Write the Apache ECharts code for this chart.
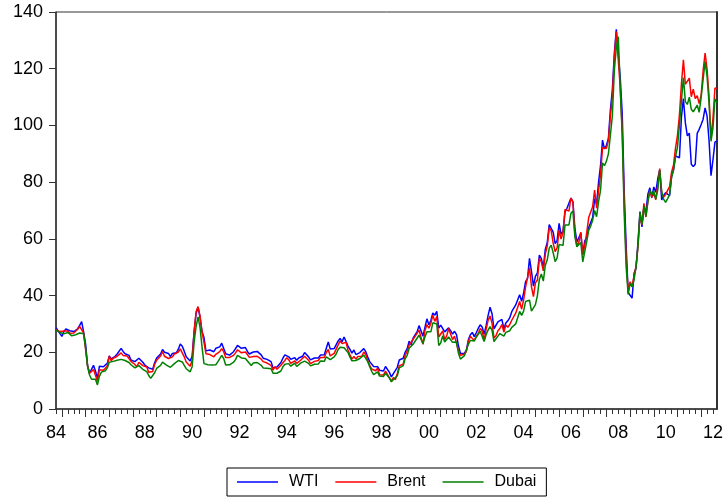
<!DOCTYPE html>
<html>
<head>
<meta charset="utf-8">
<script src="https://cdn.jsdelivr.net/npm/echarts@6/dist/echarts.min.js"></script>
<style>
  html, body { margin: 0; padding: 0; background: #fff; }
  #chart { width: 726px; height: 497px; }
</style>
</head>
<body>
<div id="chart"></div>
<script>
// monthly, 1984M10 .. 2012M09
const startYear = 1984
const startMonth = 10
const monthCount = 336

const yTicks = [0, 20, 40, 60, 80, 100, 120, 140]

const wti = [
  28.7, 28.0, 26.6,
  25.6, 27.3, 28.2, 28.8, 27.6, 27.1, 27.3, 27.8, 28.3, 29.5, 30.8, 27.2,
  22.9, 15.4, 12.6, 12.8, 15.4, 13.4, 10.8, 15.1, 14.9, 14.9, 15.2, 16.1,
  18.7, 17.7, 18.3, 18.6, 19.4, 20.0, 21.4, 20.3, 19.5, 19.8, 18.9, 17.3,
  17.1, 16.7, 16.2, 17.9, 17.4, 16.5, 15.5, 15.5, 14.5, 13.8, 14.0, 16.3,
  18.0, 17.8, 19.4, 21.0, 20.0, 20.0, 19.6, 18.5, 19.6, 20.1, 19.8, 21.1,
  22.9, 22.1, 20.4, 18.4, 18.2, 16.9, 18.6, 27.2, 33.7, 35.9, 32.3, 27.3,
  25.2, 20.5, 19.9, 20.8, 21.2, 20.2, 21.4, 21.7, 21.9, 23.2, 22.5, 19.5,
  18.8, 19.0, 18.9, 20.2, 20.9, 22.4, 21.8, 21.4, 21.9, 21.7, 20.3, 19.4,
  19.1, 20.1, 20.3, 20.3, 19.9, 19.1, 17.9, 18.0, 17.5, 18.1, 16.7, 14.5,
  15.0, 14.8, 14.7, 16.4, 17.9, 19.1, 19.7, 18.4, 17.5, 17.7, 18.1, 17.2,
  18.0, 18.5, 18.6, 19.9, 19.7, 18.4, 17.3, 17.9, 18.0, 17.4, 18.0, 19.0,
  18.9, 19.1, 21.4, 23.6, 21.2, 20.5, 21.3, 22.0, 24.0, 24.9, 23.7, 25.4,
  25.2, 22.2, 21.0, 19.7, 20.8, 19.2, 19.6, 19.9, 19.8, 21.3, 20.2, 18.3,
  16.7, 16.1, 15.0, 15.4, 14.9, 13.7, 14.1, 13.4, 15.0, 14.4, 12.9, 11.3,
  12.5, 12.0, 14.7, 17.3, 17.8, 17.9, 20.1, 21.3, 23.9, 22.6, 25.0, 26.1,
  27.2, 29.4, 29.9, 25.7, 28.8, 31.8, 29.7, 31.2, 33.9, 33.1, 34.4, 28.5,
  29.6, 29.6, 27.2, 27.4, 28.6, 27.6, 26.4, 27.4, 26.2, 22.2, 19.6, 19.3,
  19.7, 20.7, 24.4, 26.2, 27.0, 25.5, 26.9, 28.4, 29.7, 28.9, 26.3, 29.4,
  32.9, 35.9, 33.6, 28.3, 28.1, 30.7, 30.8, 31.6, 28.3, 30.3, 31.1, 32.2,
  34.3, 34.7, 36.7, 36.7, 40.3, 38.0, 40.8, 44.9, 46.0, 53.1, 48.5, 43.3,
  46.8, 48.0, 54.3, 53.0, 49.8, 56.3, 58.7, 65.0, 65.6, 62.4, 58.3, 59.4,
  65.5, 61.6, 62.7, 69.4, 70.8, 70.9, 74.4, 73.0, 63.8, 58.9, 59.1, 62.0,
  54.5, 59.3, 60.4, 64.0, 63.5, 67.5, 74.1, 72.4, 79.9, 85.8, 94.8, 91.7,
  93.0, 95.4, 105.5, 112.6, 125.4, 133.9, 133.4, 116.7, 104.1, 76.6, 57.3, 41.1,
  41.7, 39.1, 47.9, 49.7, 59.0, 69.6, 64.2, 71.1, 69.4, 75.7, 78.0, 74.5,
  78.3, 76.4, 81.2, 84.3, 73.7, 75.3, 76.3, 76.6, 75.2, 81.9, 84.3, 89.2,
  89.2, 88.6, 102.9, 109.5, 100.9, 96.3, 97.3, 86.3, 85.5, 86.3, 97.2, 98.6,
  100.3, 102.2, 106.2, 103.3, 94.7, 82.3, 87.9, 94.1, 94.5
]

const brent = [
  28.0, 28.0, 27.3,
  27.2, 27.5, 27.8, 27.5, 26.7, 26.0, 26.8, 27.2, 28.1, 29.1, 29.7, 26.8,
  21.0, 15.2, 12.6, 12.0, 13.9, 11.9, 9.8, 13.8, 14.2, 13.7, 14.3, 15.2,
  18.6, 17.0, 17.9, 18.3, 18.6, 18.9, 19.8, 18.9, 18.2, 18.7, 17.8, 16.8,
  16.9, 15.7, 14.9, 16.5, 16.1, 15.3, 14.9, 14.8, 13.0, 12.4, 13.2, 15.7,
  17.2, 16.9, 18.7, 20.3, 18.6, 17.9, 17.8, 17.1, 18.4, 19.4, 19.1, 20.1,
  21.2, 19.8, 18.4, 16.6, 16.3, 15.1, 17.2, 27.2, 34.3, 36.1, 32.8, 27.3,
  23.6, 19.5, 19.1, 19.2, 19.0, 18.4, 19.3, 19.5, 20.2, 21.3, 20.2, 18.2,
  18.0, 18.2, 17.5, 18.9, 19.8, 20.9, 20.2, 19.8, 20.3, 20.1, 19.2, 18.2,
  17.5, 18.5, 18.8, 18.6, 18.6, 17.6, 16.7, 16.6, 16.2, 16.9, 15.4, 13.7,
  14.9, 14.0, 13.9, 15.4, 16.3, 17.1, 18.1, 17.3, 16.1, 16.6, 17.0, 16.1,
  16.8, 17.2, 17.1, 18.6, 18.4, 17.2, 16.0, 16.6, 16.8, 16.2, 17.1, 18.2,
  18.0, 18.2, 19.9, 21.0, 18.7, 18.6, 19.6, 20.3, 22.6, 24.0, 23.1, 23.7,
  23.5, 20.8, 19.1, 17.6, 18.5, 17.6, 18.5, 18.6, 18.6, 20.1, 19.2, 17.1,
  15.4, 14.1, 13.4, 13.5, 14.4, 12.1, 12.1, 12.0, 13.4, 12.8, 11.0, 9.8,
  11.1, 10.3, 12.5, 15.3, 15.3, 15.8, 19.1, 20.3, 22.5, 22.0, 24.6, 25.6,
  25.5, 27.8, 27.5, 22.8, 27.6, 29.8, 28.5, 30.2, 33.1, 30.9, 32.6, 25.4,
  25.6, 27.5, 24.5, 25.7, 28.4, 27.7, 24.5, 25.7, 25.6, 20.5, 18.9, 18.6,
  19.4, 20.3, 23.7, 25.7, 25.4, 24.1, 25.7, 26.6, 28.4, 27.5, 24.3, 28.1,
  31.2, 32.8, 30.3, 25.0, 25.8, 27.6, 28.4, 29.8, 27.1, 29.6, 28.8, 29.8,
  31.3, 30.9, 33.8, 33.4, 37.9, 35.2, 38.4, 43.0, 43.4, 49.8, 43.1, 39.6,
  44.5, 45.5, 53.1, 51.9, 48.7, 54.6, 57.5, 63.9, 62.9, 58.5, 55.5, 56.8,
  63.1, 59.9, 62.3, 70.4, 70.9, 69.8, 74.4, 73.1, 61.9, 57.7, 58.8, 62.4,
  54.3, 57.8, 62.1, 67.5, 67.2, 71.3, 77.2, 70.8, 77.0, 82.5, 92.1, 91.5,
  91.9, 94.8, 103.3, 110.4, 123.9, 133.1, 133.0, 113.2, 98.0, 72.8, 53.2, 41.6,
  44.9, 43.2, 47.0, 50.2, 57.5, 68.6, 64.9, 72.5, 67.7, 73.2, 77.0, 74.7,
  76.2, 73.8, 78.8, 84.8, 75.9, 74.8, 75.6, 77.1, 78.4, 83.5, 86.1, 92.0,
  96.5, 103.7, 114.6, 123.1, 114.5, 113.9, 116.7, 110.1, 112.8, 109.5, 110.5, 107.7,
  110.7, 119.3, 125.5, 119.8, 110.3, 95.2, 102.6, 113.2, 113.0
]

const dubai = [
  27.8, 27.5, 27.0,
  26.6, 26.5, 26.8, 27.0, 26.5, 25.8, 25.8, 26.2, 26.5, 26.8, 27.2, 26.5,
  21.5, 15.0, 12.0, 10.5, 11.0, 10.5, 8.5, 11.5, 13.0, 13.0, 13.5, 14.5,
  16.5, 16.6, 16.8, 17.0, 17.2, 17.3, 17.5, 17.3, 17.1, 16.8, 16.4, 15.6,
  15.2, 14.5, 13.8, 15.3, 15.0, 14.0, 13.5, 13.2, 11.8, 10.8, 11.0, 12.8,
  14.3, 14.5, 15.4, 16.5, 16.0, 15.5, 15.2, 14.7, 15.3, 16.0, 16.3, 17.1,
  17.6, 16.6, 15.4, 14.2, 13.9, 13.1, 14.9, 23.5, 29.0, 32.5, 28.8, 22.0,
  16.0, 15.3, 15.6, 15.7, 15.5, 14.9, 15.6, 16.6, 17.3, 18.9, 17.8, 15.5,
  15.3, 15.6, 15.3, 16.5, 17.4, 18.9, 18.3, 18.0, 18.0, 17.8, 17.2, 16.1,
  15.3, 16.2, 16.3, 16.4, 16.5, 15.4, 14.5, 14.8, 14.4, 15.0, 14.2, 12.6,
  12.6, 12.6, 12.4, 13.4, 14.9, 15.8, 16.5, 16.0, 15.1, 15.7, 16.2, 15.0,
  15.7, 16.2, 16.1, 16.9, 17.2, 16.1, 15.2, 15.7, 15.8, 15.4, 15.9, 16.9,
  16.6, 16.8, 18.4, 18.9, 17.4, 17.6, 18.4, 19.4, 21.0, 21.8, 21.4, 21.6,
  21.7, 19.9, 18.3, 17.0, 17.5, 17.1, 17.7, 17.8, 17.8, 19.0, 18.6, 16.7,
  14.9, 13.3, 12.1, 12.4, 13.1, 11.6, 11.6, 11.5, 12.6, 12.4, 10.9, 9.6,
  10.4, 10.4, 11.7, 14.5, 14.9, 15.3, 17.8, 18.9, 21.4, 21.0, 22.8, 23.9,
  24.2, 26.0, 26.0, 23.1, 25.4, 27.2, 26.5, 27.2, 30.4, 30.6, 30.0, 22.4,
  23.3, 25.8, 23.6, 24.1, 25.4, 25.8, 23.5, 24.2, 23.6, 19.6, 17.6, 18.1,
  18.8, 19.2, 22.8, 24.2, 24.7, 24.0, 25.3, 25.9, 27.4, 26.7, 23.8, 26.2,
  27.8, 29.1, 27.7, 23.8, 24.2, 25.7, 26.6, 27.2, 25.7, 27.0, 27.4, 27.6,
  28.8, 28.7, 30.0, 30.4, 34.4, 33.0, 34.5, 37.9, 37.6, 38.4, 34.5, 34.1,
  36.8, 40.0, 45.7, 47.6, 45.1, 50.6, 52.6, 56.7, 57.8, 55.1, 52.0, 53.3,
  58.0, 57.6, 57.7, 64.9, 65.1, 64.9, 69.0, 69.8, 60.7, 57.2, 56.8, 58.7,
  51.9, 55.5, 59.0, 63.0, 64.5, 66.6, 70.0, 67.8, 73.1, 77.1, 86.8, 85.8,
  87.4, 90.0, 96.6, 103.4, 119.4, 127.4, 131.3, 112.9, 96.6, 68.9, 49.9, 40.4,
  44.2, 43.1, 45.6, 50.1, 57.6, 69.4, 65.1, 71.6, 67.9, 73.1, 77.0, 75.5,
  76.9, 74.0, 77.2, 84.2, 76.7, 73.9, 72.9, 74.2, 75.6, 81.7, 84.4, 89.0,
  92.3, 100.3, 108.7, 116.9, 108.4, 107.4, 110.0, 105.7, 104.8, 104.3, 107.2, 104.6,
  109.9, 116.2, 122.5, 117.3, 107.9, 94.4, 99.1, 109.4, 108.0
]

// category labels 'YYYY-MM'
const months = []
for (let i = 0; i < monthCount; i++) {
  const m = startMonth - 1 + i
  const y = startYear + Math.floor(m / 12)
  months.push(y + '-' + String(m % 12 + 1).padStart(2, '0'))
}

const font = 'Liberation Sans, Arial, Helvetica, sans-serif'
const axisColor = '#333'

const chart = echarts.init(document.getElementById('chart'), null, { renderer: 'canvas' })

const baseX = {
  type: 'category',
  data: months,
  boundaryGap: false,
  position: 'bottom',
  gridIndex: 0,
  splitLine: { show: false }
}

chart.setOption({
  animation: false,
  backgroundColor: '#fff',
  grid: {
    left: 56, right: 7, top: 12, bottom: 88,
    show: true, borderColor: axisColor, borderWidth: 1
  },
  legend: {
    bottom: 1,
    left: 227,
    data: ['WTI', 'Brent', 'Dubai'],
    borderColor: '#000',
    borderWidth: 1,
    padding: [6, 10, 6, 10],
    icon: 'rect',
    itemWidth: 41,
    itemHeight: 1.5,
    itemGap: 17,
    textStyle: { fontFamily: font, fontSize: 16, color: '#000', padding: [0, 0, 0, 6] }
  },
  xAxis: [
    {
      ...baseX,
      axisLine: { show: true, lineStyle: { color: axisColor, width: 1.5 } },
      // quarterly minor ticks
      axisTick: {
        show: true,
        length: 5,
        interval: (i, v) => ['01', '04', '07', '10'].includes(v.slice(5)),
        lineStyle: { color: axisColor, width: 1 }
      },
      axisLabel: {
        show: true,
        margin: 15,
        interval: (i, v) => i === 0 || (v.slice(5) === '07' && +v.slice(0, 4) % 2 === 0),
        formatter: v => v.slice(2, 4),
        fontFamily: font,
        fontSize: 18,
        color: '#000'
      }
    },
    {
      ...baseX,
      axisLine: { show: false },
      // yearly major ticks
      axisTick: {
        show: true,
        length: 8,
        interval: (i, v) => v.slice(5) === '01',
        lineStyle: { color: axisColor, width: 1 }
      },
      axisLabel: { show: false }
    }
  ],
  yAxis: [
    {
      type: 'value',
      min: yTicks[0],
      max: yTicks[yTicks.length - 1],
      interval: 20,
      splitLine: { show: false },
      axisLine: { show: true, lineStyle: { color: axisColor, width: 1.5 } },
      axisTick: { show: true, length: 7, lineStyle: { color: axisColor } },
      axisLabel: { margin: 13, fontFamily: font, fontSize: 18, color: '#000' }
    },
    {
      type: 'value',
      position: 'right',
      min: yTicks[0],
      max: yTicks[yTicks.length - 1],
      interval: 20,
      splitLine: { show: false },
      axisLine: { show: true, lineStyle: { color: axisColor, width: 2 } },
      axisTick: { show: false },
      axisLabel: { show: false }
    }
  ],
  series: [
    {
      name: 'WTI', type: 'line', data: wti, symbol: 'none',
      itemStyle: { color: '#0000ff' },
      lineStyle: { width: 1.5, color: '#0000ff' }
    },
    {
      name: 'Brent', type: 'line', data: brent, symbol: 'none',
      itemStyle: { color: '#ff0000' },
      lineStyle: { width: 1.5, color: '#ff0000' }
    },
    {
      name: 'Dubai', type: 'line', data: dubai, symbol: 'none',
      itemStyle: { color: '#008000' },
      lineStyle: { width: 1.5, color: '#008000' }
    }
  ]
})

window.addEventListener('resize', () => chart.resize())
</script>
</body>
</html>
